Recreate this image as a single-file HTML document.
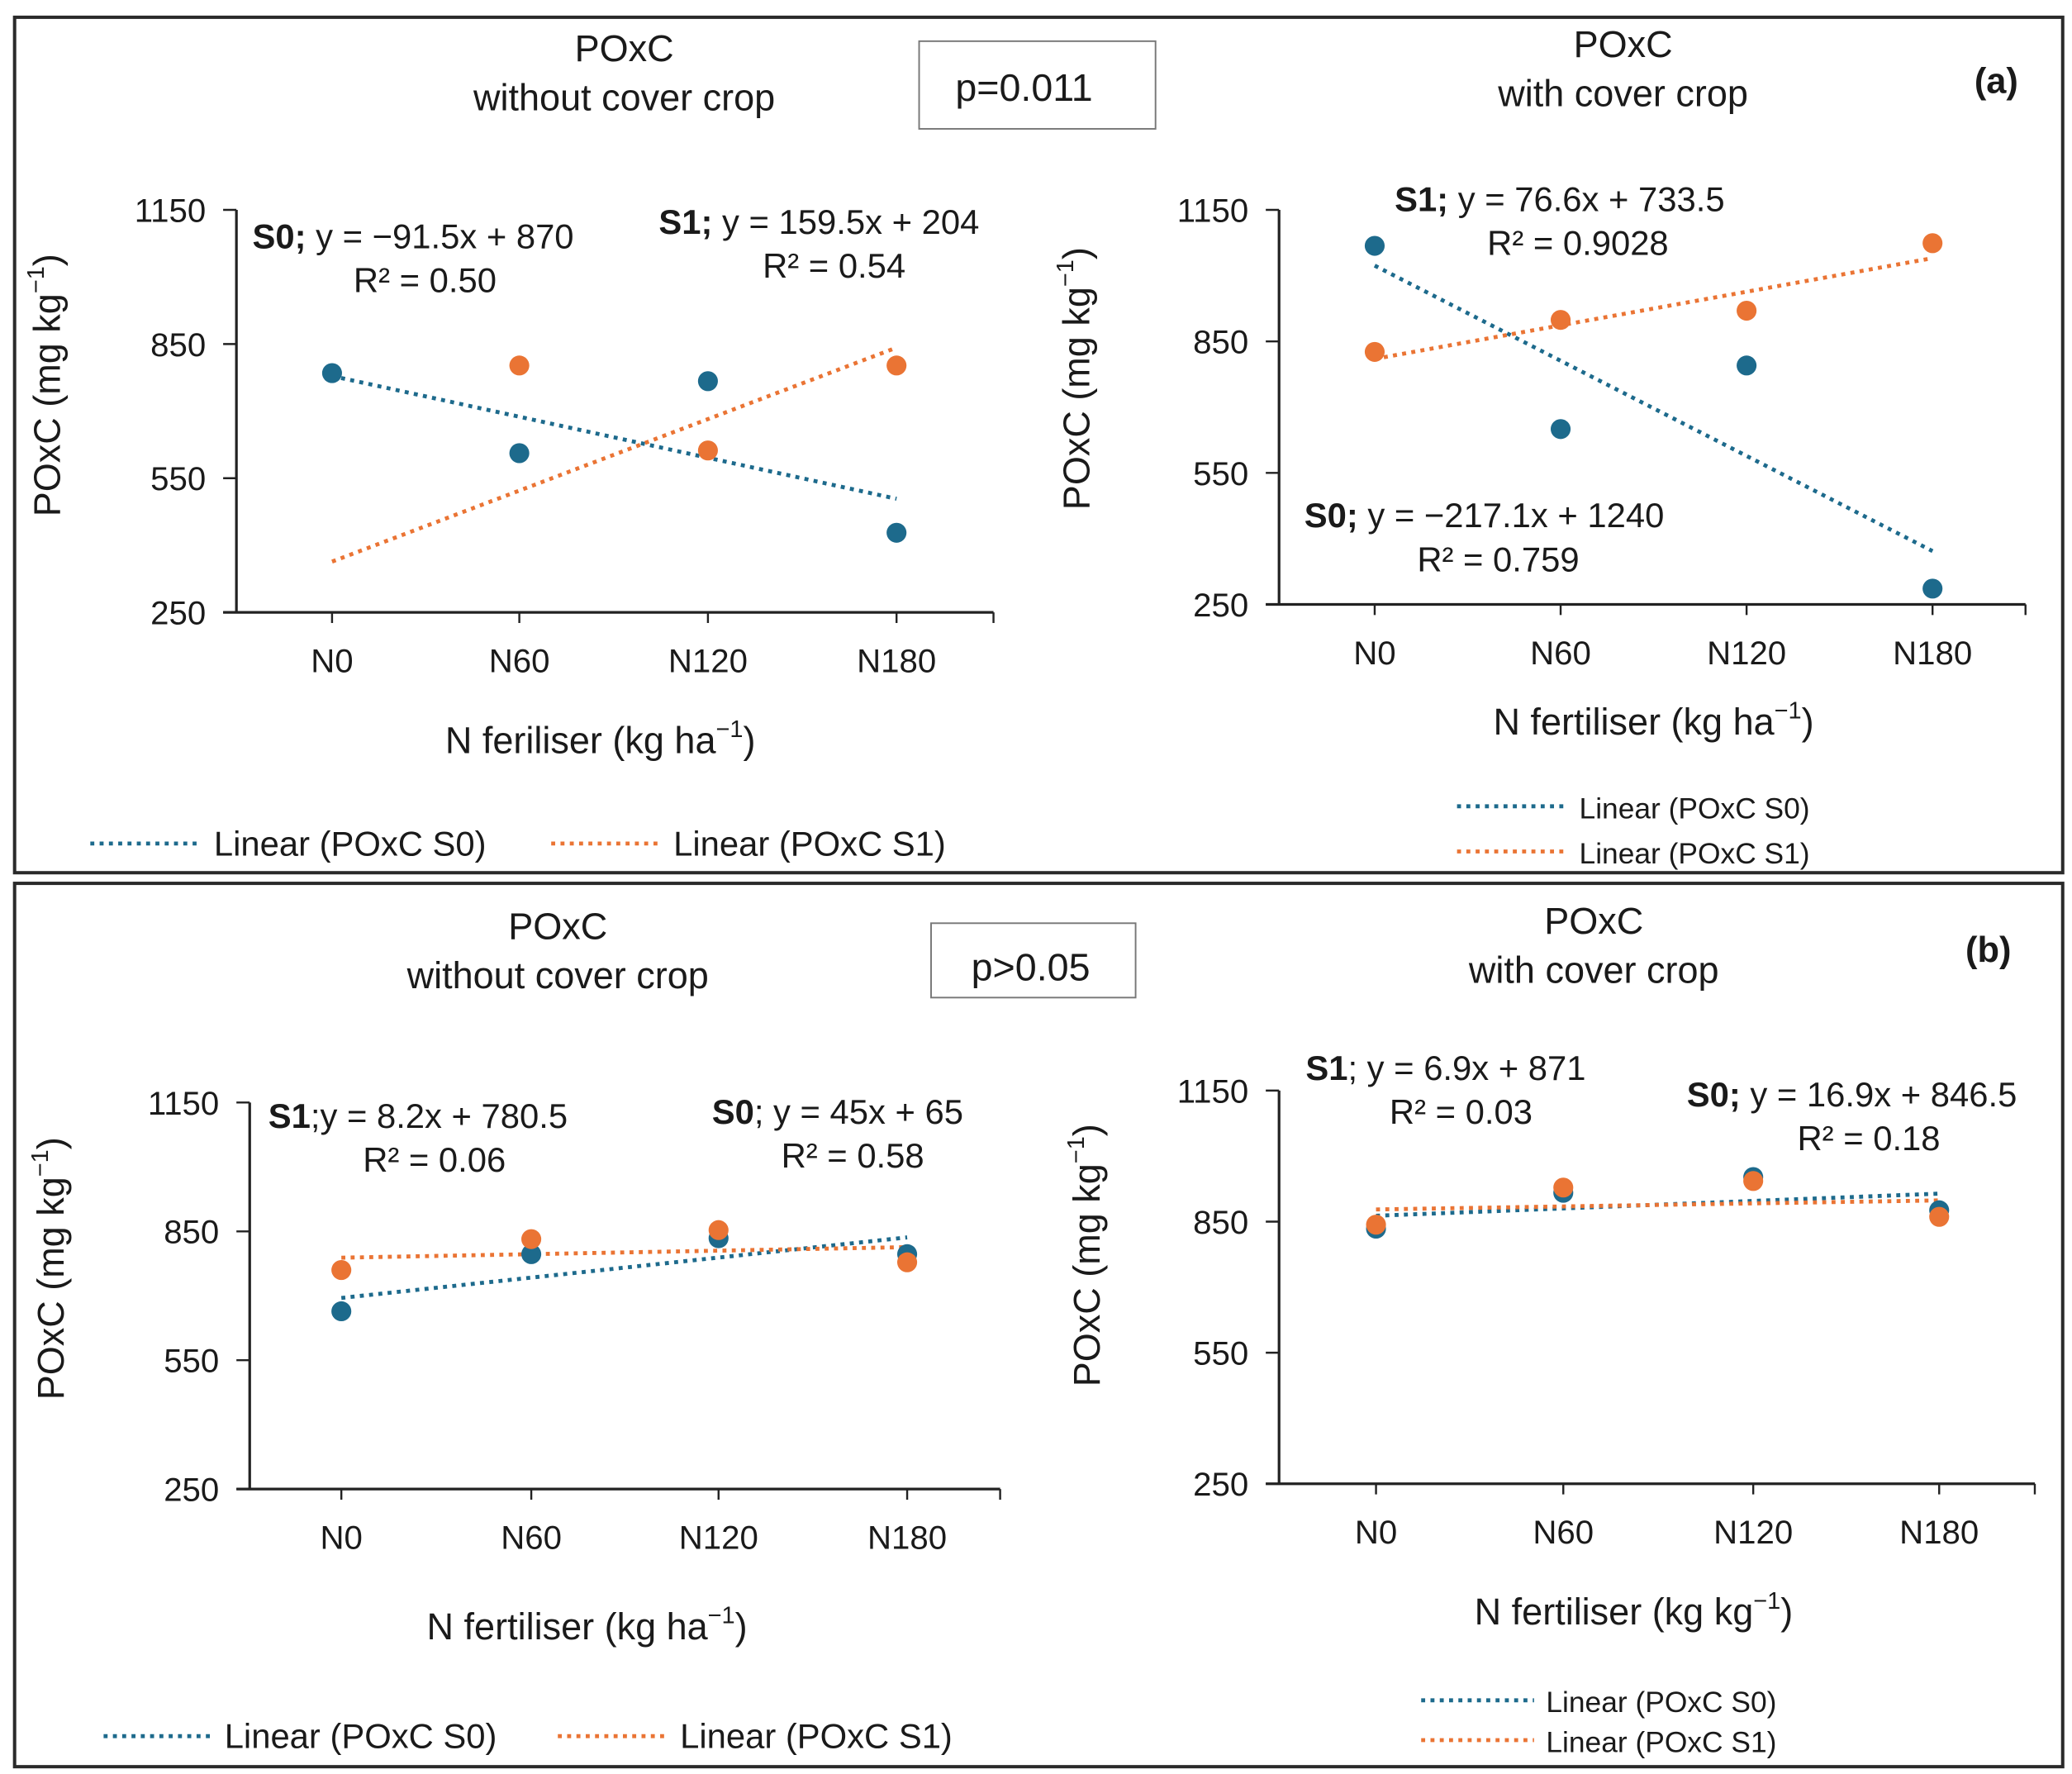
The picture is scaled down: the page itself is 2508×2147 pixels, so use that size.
<!DOCTYPE html>
<html><head><meta charset="utf-8"><style>
html,body{margin:0;padding:0;background:#fff}
svg{display:block}
text{font-family:"Liberation Sans",sans-serif;fill:#1a1a1a}
</style></head><body>
<svg id="fig" width="2508" height="2147" viewBox="0 0 1560 1335.5" preserveAspectRatio="none" xmlns="http://www.w3.org/2000/svg">
<rect x="11" y="13" width="1542" height="644" fill="none" stroke="#2a2a2a" stroke-width="2.5"/>
<rect x="11" y="665" width="1542" height="665" fill="none" stroke="#2a2a2a" stroke-width="2.5"/>
<rect x="692" y="31" width="178" height="66" fill="#fff" stroke="#777" stroke-width="1.2"/>
<text x="771" y="76" font-size="29" text-anchor="middle">p=0.011</text>
<rect x="701" y="695" width="154" height="56" fill="#fff" stroke="#777" stroke-width="1.2"/>
<text x="776" y="738" font-size="29" text-anchor="middle">p&gt;0.05</text>
<text x="1503" y="70" font-size="27" font-weight="bold" text-anchor="middle">(a)</text>
<text x="1497" y="724" font-size="27" font-weight="bold" text-anchor="middle">(b)</text>
<g id="charts"></g>
</svg>
<script>
const categories = ["N0","N60","N120","N180"];
const yTicks = [250,550,850,1150];
const aLeftS0 = [785,606,767,428];
const aLeftS1 = [null,802,612,802];
const aRightS0 = [1068,650,795,286];
const aRightS1 = [826,899,920,1074];
const bLeftS0 = [664,797,834,797];
const bLeftS1 = [760,832,853,778];
const bRightS0 = [834,916,952,876];
const bRightS1 = [843,928,943,861];
const aLeftTrendS0 = [-91.5,870];
const aLeftTrendS1 = [159.5,204];
const aRightTrendS0 = [-217.1,1240];
const aRightTrendS1 = [76.6,733.5];
const bLeftTrendS0 = [47,648];
const bLeftTrendS1 = [8.2,780.5];
const bRightTrendS0 = [16.9,846.5];
const bRightTrendS1 = [6.9,871];

const NS="http://www.w3.org/2000/svg";
const root=document.getElementById('charts');
const BLUE="#1d6a8c", ORANGE="#ea7434";
function el(tag,attrs,parent,txt){const e=document.createElementNS(NS,tag);for(const k in attrs)e.setAttribute(k,attrs[k]);if(txt!==undefined)e.textContent=txt;(parent||root).appendChild(e);return e;}

function chart(cfg){
  const g=el('g',{});
  
  
  const yS=v=>cfg.yBot-(v-250)/900*(cfg.yBot-cfg.yTop);
  const xS=i=>cfg.xs[i];
  // axes
  const ya=el('line',{x1:cfg.ax,y1:cfg.yTop,x2:cfg.ax,y2:cfg.yBot,stroke:'#222','stroke-width':2},g);
  
  
  const xa=el('line',{x1:cfg.ax-10,y1:cfg.yBot,x2:cfg.axEnd,y2:cfg.yBot,stroke:'#222','stroke-width':2},g);
  
  
  yTicks.forEach(t=>{
    el('line',{x1:cfg.ax-10,y1:yS(t),x2:cfg.ax,y2:yS(t),stroke:'#222','stroke-width':1.5},g);
    const tl=el('text',{x:cfg.ax-23,y:yS(t)+9,'font-size':25,'text-anchor':'end'},g,String(t));
    
    
  });
  categories.forEach((c,i)=>{
    el('line',{x1:xS(i),y1:cfg.yBot,x2:xS(i),y2:cfg.yBot+8,stroke:'#222','stroke-width':1.5},g);
    const tl=el('text',{x:xS(i),y:cfg.yBot+45,'font-size':25,'text-anchor':'middle'},g,c);
    
    
  });
  el('line',{x1:cfg.axEnd,y1:cfg.yBot,x2:cfg.axEnd,y2:cfg.yBot+8,stroke:'#222','stroke-width':1.5},g);
  // trendlines
  [[cfg.tS0,BLUE,'trendline-s0'],[cfg.tS1,ORANGE,'trendline-s1']].forEach(([t,col,nm])=>{
    const l=el('line',{x1:xS(0),y1:yS(t[0]*1+t[1]),x2:xS(3),y2:yS(t[0]*4+t[1]),stroke:col,'stroke-width':3,'stroke-dasharray':'3 4'},g);
    
    
  });
  // points
  [[cfg.s0,BLUE,'point-s0'],[cfg.s1,ORANGE,'point-s1']].forEach(([arr,col,nm])=>{
    arr.forEach((v,i)=>{ if(v==null)return;
      const p=el('circle',{cx:xS(i),cy:yS(v),r:7.5,fill:col},g);
      
      
    });
  });
  // titles
  const t1=el('text',{x:cfg.tx,y:cfg.ty,'font-size':28,'text-anchor':'middle'},g,'POxC');
  
  
  el('text',{x:cfg.tx,y:cfg.ty+37,'font-size':28,'text-anchor':'middle'},g,cfg.sub);
  const yt=el('text',{x:0,y:0,'font-size':28,'text-anchor':'middle',transform:`translate(${cfg.ytx},${cfg.yty}) rotate(-90)`},g);
  
  
  yt.innerHTML='POxC  (mg kg<tspan font-size="18" dy="-12">−1</tspan><tspan dy="12">)</tspan>';
  const xt=el('text',{x:cfg.xtx,y:cfg.xty,'font-size':28,'text-anchor':'middle'},g);
  
  
  xt.innerHTML=cfg.xtitle+' (kg '+cfg.unit+'<tspan font-size="18" dy="-12">−1</tspan><tspan dy="12">)</tspan>';
  // equations
  cfg.eqs.forEach(e=>{
    const a=el('text',{x:e.x,y:e.y,'font-size':26},g);
    
    
    a.innerHTML='<tspan font-weight="bold">'+e.b+'</tspan>'+e.t;
    el('text',{x:e.rx,y:e.y+33,'font-size':26,'text-anchor':'middle'},g,e.r);
  });
  // legend
  cfg.leg.forEach(L=>{
    const l=el('line',{x1:L.x1,y1:L.y,x2:L.x2,y2:L.y,stroke:L.c,'stroke-width':3,'stroke-dasharray':'3 4'},g);
    
    
    const t=el('text',{x:L.x2+9,y:L.y+9,'font-size':L.fs},g,L.t);
    
    
  });
}

chart({name:'chart-a-left',ax:178,axEnd:748,yTop:158,yBot:461,xs:[250,391,533,675],s0:aLeftS0,s1:aLeftS1,tS0:aLeftTrendS0,tS1:aLeftTrendS1,
 tx:470,ty:46,sub:'without cover crop',ytx:45,yty:290,xtx:452,xty:567,xtitle:'N feriliser',unit:'ha',
 eqs:[{x:190,y:187,b:'S0;',t:' y = −91.5x + 870',rx:320,r:'R² = 0.50'},{x:496,y:176,b:'S1;',t:'  y = 159.5x + 204',rx:628,r:'R² = 0.54'}],
 leg:[{x1:68,x2:152,y:635,c:BLUE,t:'Linear (POxC S0)',fs:26},{x1:415,x2:498,y:635,c:ORANGE,t:'Linear (POxC S1)',fs:26}]});
chart({name:'chart-a-right',ax:963,axEnd:1525,yTop:158,yBot:455,xs:[1035,1175,1315,1455],s0:aRightS0,s1:aRightS1,tS0:aRightTrendS0,tS1:aRightTrendS1,
 tx:1222,ty:43,sub:'with cover crop',ytx:820,yty:285,xtx:1245,xty:553,xtitle:'N fertiliser',unit:'ha',
 eqs:[{x:1050,y:159,b:'S1;',t:' y = 76.6x + 733.5',rx:1188,r:'R² = 0.9028'},{x:982,y:397,b:'S0;',t:' y = −217.1x + 1240',rx:1128,r:'R² = 0.759'}],
 leg:[{x1:1097,x2:1180,y:607,c:BLUE,t:'Linear (POxC S0)',fs:22},{x1:1097,x2:1180,y:641,c:ORANGE,t:'Linear (POxC S1)',fs:22}]});
chart({name:'chart-b-left',ax:188,axEnd:753,yTop:830,yBot:1121,xs:[257,400,541,683],s0:bLeftS0,s1:bLeftS1,tS0:bLeftTrendS0,tS1:bLeftTrendS1,
 tx:420,ty:707,sub:'without cover crop',ytx:48,yty:955,xtx:442,xty:1234,xtitle:'N fertiliser',unit:'ha',
 eqs:[{x:202,y:849,b:'S1',t:';y = 8.2x + 780.5',rx:327,r:'R² = 0.06'},{x:536,y:846,b:'S0',t:'; y = 45x + 65',rx:642,r:'R² = 0.58'}],
 leg:[{x1:78,x2:160,y:1307,c:BLUE,t:'Linear (POxC S0)',fs:26},{x1:420,x2:503,y:1307,c:ORANGE,t:'Linear (POxC S1)',fs:26}]});
chart({name:'chart-b-right',ax:963,axEnd:1532,yTop:821,yBot:1117,xs:[1036,1177,1320,1460],s0:bRightS0,s1:bRightS1,tS0:bRightTrendS0,tS1:bRightTrendS1,
 tx:1200,ty:703,sub:'with cover crop',ytx:828,yty:945,xtx:1230,xty:1223,xtitle:'N fertiliser',unit:'kg',
 eqs:[{x:983,y:813,b:'S1',t:'; y = 6.9x + 871',rx:1100,r:'R² = 0.03'},{x:1270,y:833,b:'S0;',t:' y = 16.9x + 846.5',rx:1407,r:'R² = 0.18'}],
 leg:[{x1:1070,x2:1155,y:1280,c:BLUE,t:'Linear (POxC S0)',fs:22},{x1:1070,x2:1155,y:1310,c:ORANGE,t:'Linear (POxC S1)',fs:22}]});
</script>
</body></html>
